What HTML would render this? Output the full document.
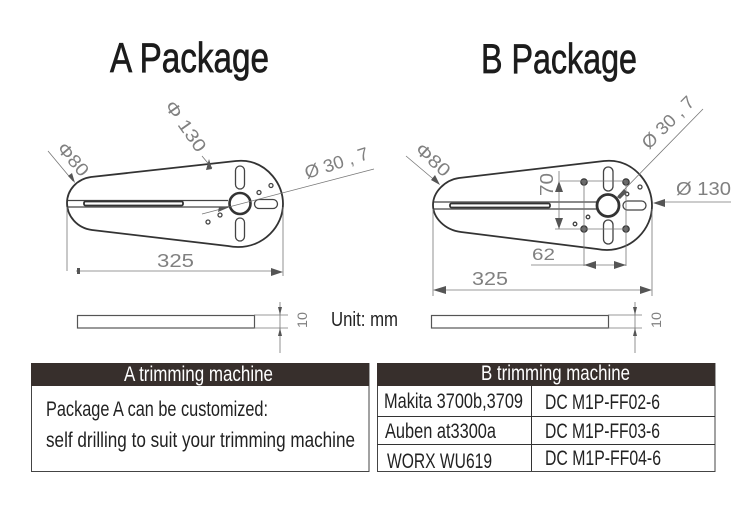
<!DOCTYPE html>
<html><head><meta charset="utf-8"><style>
html,body{margin:0;padding:0;background:#fff;width:750px;height:505px;overflow:hidden}
svg{display:block}
text{font-family:"Liberation Sans",sans-serif}
.t{fill:#222}
.b{fill:#1c1c1c;stroke:#1c1c1c;stroke-width:.7}
.d{fill:none;stroke:#777;stroke-width:.8}
.p{fill:none;stroke:#444;stroke-width:1.3}
.k{fill:none;stroke:#333;stroke-width:1.8}
.a{fill:#555;stroke:none}
.r{fill:#808080}
</style></head><body>
<svg width="750" height="505" viewBox="0 0 750 505" xmlns="http://www.w3.org/2000/svg">
<rect width="750" height="505" fill="#fff"/>

<text x="110" y="72" font-size="42" textLength="159" lengthAdjust="spacingAndGlyphs" class="b">A Package</text>
<text x="481" y="73" font-size="42" textLength="156" lengthAdjust="spacingAndGlyphs" class="b">B Package</text>

<!-- Plate A -->
<path class="k" d="M91 177 L236 161 Q241 160.500 246 161 C268 164 283 184 283 204 C283 226 264 247 238 247 Q233 247 228 246 L92 230 C77 228 67 216 67 203 C67 190 77 179 91 177 Z"/>
<path class="p" d="M68 200.500H228M68 207H228"/>
<rect class="k" x="84" y="201.500" width="99" height="4" rx="1.500" stroke-width="1.300"/>
<circle cx="240" cy="203.500" r="10.500" fill="#fff" stroke="#333" stroke-width="2.600"/>
<rect class="p" x="235.500" y="166" width="9" height="23" rx="4.500"/>
<rect class="p" x="235.500" y="218" width="9" height="23" rx="4.500"/>
<rect class="p" x="254.500" y="199.500" width="23" height="9" rx="4.500"/>
<circle class="p" cx="259" cy="192.500" r="2" stroke-width="1"/>
<circle class="p" cx="271" cy="185.500" r="2" stroke-width="1"/>
<circle class="p" cx="220" cy="215" r="2" stroke-width="1"/>
<circle class="p" cx="208" cy="222" r="2" stroke-width="1"/>

<path class="d" d="M48 151L73 181M202 156L212 168M202 214L374 169M67 207V271M283 207V276M76 271H275"/>
<path class="a" d="M75 183L68 176L72 173ZM209 159L212 169L206 170ZM232 206L218 212L219 207ZM283 272L271 268V276ZM80 268h-3v6h3z"/>
<text class="r" transform="translate(56 149) rotate(49)" font-size="18" textLength="38" lengthAdjust="spacingAndGlyphs">Φ80</text>
<text class="r" transform="translate(164 106) rotate(55)" font-size="18" textLength="58" lengthAdjust="spacingAndGlyphs">Φ 130</text>
<text class="r" transform="translate(307 179) rotate(-18)" font-size="18" textLength="66" lengthAdjust="spacingAndGlyphs">Ø 30 , 7</text>
<text class="r" x="157" y="267" font-size="18" textLength="37" lengthAdjust="spacingAndGlyphs">325</text>

<!-- Plate B -->
<path class="k" d="M459 178 L604 161 Q609 160.500 614 161 C636 164 652 184 652 206 C652 229 632 250 607 250 Q602 250 597 249 L461 232 C445 230 433 218 433 205 C433 192 445 180 459 178 Z"/>
<path class="p" d="M434 202H597M434 209H597"/>
<rect class="k" x="450" y="203.500" width="100" height="4" rx="1.500" stroke-width="1.300"/>
<circle cx="608" cy="205.500" r="11" fill="#fff" stroke="#333" stroke-width="2.800"/>
<rect class="p" x="603.500" y="167" width="9.500" height="24" rx="4.700"/>
<rect class="p" x="603.500" y="220" width="9.500" height="24" rx="4.700"/>
<rect class="p" x="623" y="201" width="23" height="9" rx="4.500"/>
<g fill="#666" stroke="#333" stroke-width="1.200">
<circle cx="584" cy="182" r="3.200"/><circle cx="626" cy="182" r="3.200"/>
<circle cx="584" cy="229" r="3.200"/><circle cx="626" cy="229" r="3.200"/>
</g>
<circle class="p" cx="627" cy="194" r="1.800" stroke-width="1"/>
<circle class="p" cx="640" cy="187" r="2" stroke-width="1"/>
<circle class="p" cx="588" cy="217" r="1.800" stroke-width="1"/>
<circle class="p" cx="575" cy="224" r="1.800" stroke-width="1"/>

<path class="d" d="M406 156L438 183M433 209V296M652 209V296M439 290H646M560 181H626M555 229H626M559 171V229M584 182V266M626 182V266M531 265H626M661 202H731M618 196L703 109"/>
<path class="a" d="M440 185L431 180L435 175ZM433 290L446 286V294ZM652 290L640 286V294ZM559 181L555 192H563ZM559 229L555 218H563ZM584 265L596 261V269ZM626 265L614 261V269ZM653 203L665 199V207ZM617 197L624 189L627 192L620 199Z"/>
<text class="r" transform="translate(414 151) rotate(42)" font-size="18" textLength="40" lengthAdjust="spacingAndGlyphs">Φ80</text>
<text class="r" transform="translate(649 150) rotate(-45)" font-size="18" textLength="66" lengthAdjust="spacingAndGlyphs">Ø 30 , 7</text>
<text class="r" transform="translate(553 196) rotate(-90)" font-size="18" textLength="23" lengthAdjust="spacingAndGlyphs">70</text>
<text class="r" x="532" y="260" font-size="17" textLength="23" lengthAdjust="spacingAndGlyphs">62</text>
<text class="r" x="472" y="285" font-size="18" textLength="36" lengthAdjust="spacingAndGlyphs">325</text>
<text class="r" x="676" y="195" font-size="18" textLength="55" lengthAdjust="spacingAndGlyphs">Ø 130</text>

<!-- Side views -->
<rect x="77.500" y="315.500" width="177" height="12.500" fill="#fff" stroke="#555" stroke-width="1.200"/>
<rect x="431.500" y="315.500" width="177" height="12.500" fill="#fff" stroke="#555" stroke-width="1.200"/>
<path class="d" d="M254 315H288M254 328H288M280 302V353M608 315H642M608 328H642M635 302V353"/>
<path class="a" d="M280 315L278 307H282ZM280 328L278 336H282ZM635 315L633 307H637ZM635 328L633 336H637Z"/>
<text class="r" transform="translate(307 328) rotate(-90)" font-size="14" textLength="16" lengthAdjust="spacingAndGlyphs">10</text>
<text class="r" transform="translate(661 328) rotate(-90)" font-size="14" textLength="16" lengthAdjust="spacingAndGlyphs">10</text>
<text x="331" y="326" font-size="20" textLength="67" lengthAdjust="spacingAndGlyphs" class="t">Unit: mm</text>

<!-- Table A -->
<rect x="31.500" y="363.500" width="337.500" height="108" fill="#fff" stroke="#444" stroke-width="1"/>
<rect x="31" y="363" width="338" height="23" fill="#372f2c"/>
<text x="124" y="381" font-size="21" textLength="149" lengthAdjust="spacingAndGlyphs" fill="#fff">A trimming machine</text>
<text x="46" y="416" font-size="21" textLength="222" lengthAdjust="spacingAndGlyphs" class="t">Package A can be customized:</text>
<text x="46" y="447" font-size="21" textLength="309" lengthAdjust="spacingAndGlyphs" class="t">self drilling to suit your trimming machine</text>

<!-- Table B -->
<rect x="377.500" y="363.500" width="337.500" height="108" fill="#fff" stroke="#444" stroke-width="1"/>
<rect x="377" y="363" width="338" height="23" fill="#372f2c"/>
<path d="M377 416.500H715M377 444.500H715M531.500 386V471" stroke="#333" stroke-width="1" fill="none"/>
<text x="481" y="380" font-size="21" textLength="149" lengthAdjust="spacingAndGlyphs" fill="#fff">B trimming machine</text>
<text x="384" y="408" font-size="21" textLength="139" lengthAdjust="spacingAndGlyphs" class="t">Makita 3700b,3709</text>
<text x="385" y="438" font-size="21" textLength="111" lengthAdjust="spacingAndGlyphs" class="t">Auben at3300a</text>
<text x="387" y="468" font-size="21" textLength="105" lengthAdjust="spacingAndGlyphs" class="t">WORX WU619</text>
<text x="545" y="409" font-size="21" textLength="115" lengthAdjust="spacingAndGlyphs" class="t">DC M1P-FF02-6</text>
<text x="545" y="438" font-size="21" textLength="115" lengthAdjust="spacingAndGlyphs" class="t">DC M1P-FF03-6</text>
<text x="545" y="465" font-size="21" textLength="116" lengthAdjust="spacingAndGlyphs" class="t">DC M1P-FF04-6</text>
</svg>
</body></html>
